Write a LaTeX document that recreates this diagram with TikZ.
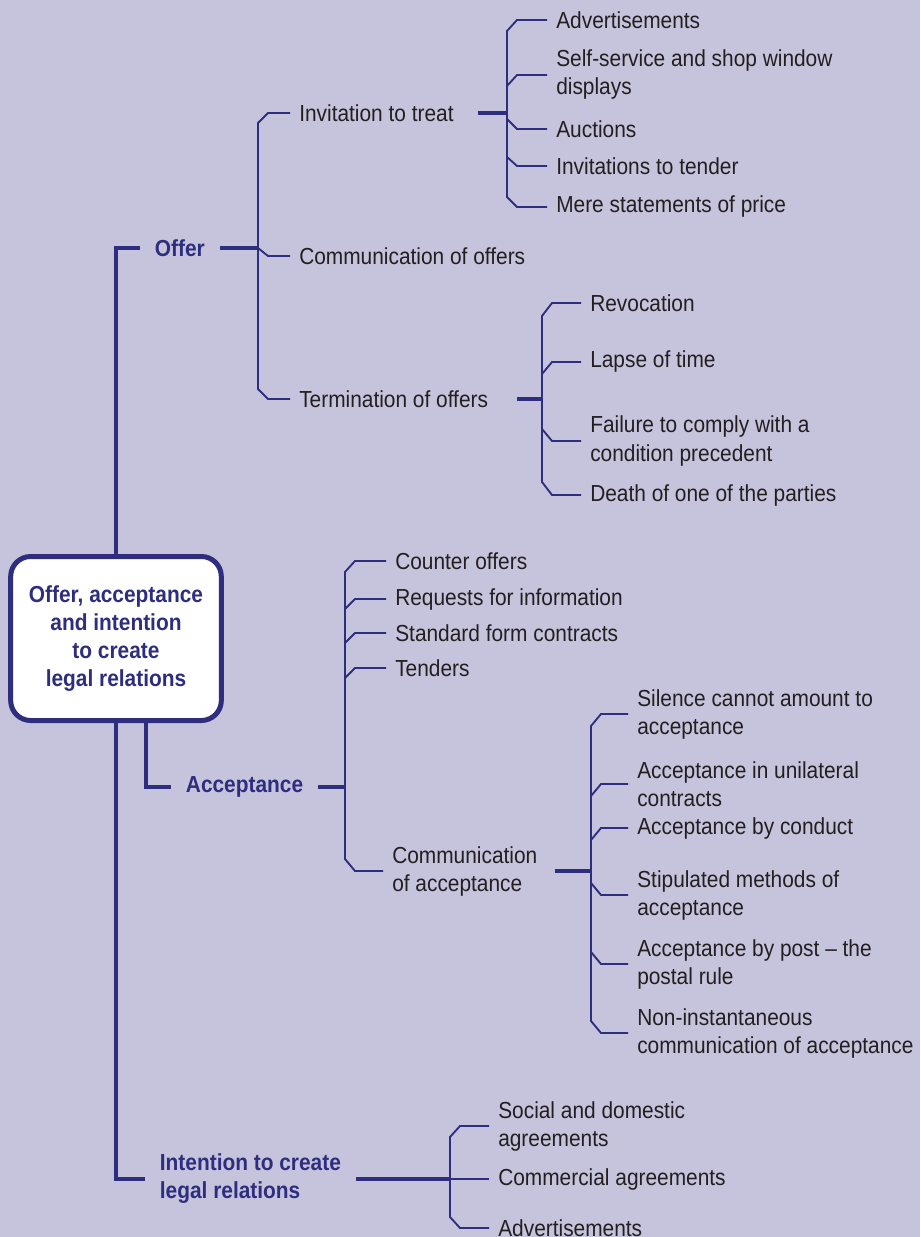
\documentclass[tikz,border=0pt]{standalone}
\usepackage{fontspec}
\setmainfont{Liberation Sans}[FakeStretch=0.9]
\usetikzlibrary{calc}
\definecolor{backdrop}{HTML}{C6C3DC}
\definecolor{treeblue}{HTML}{2E2D7E}
\definecolor{ink}{HTML}{231F20}
\newcommand{\diagfont}{\fontsize{17.4}{21}\selectfont}
\tikzstyle{hub} = [rectangle, rounded corners=15pt, draw=treeblue, line width=3.75pt, fill=white, minimum width=158pt, minimum height=123pt, align=center, text=treeblue, font=\diagfont\bfseries]
\tikzstyle{head} = [anchor=west, inner xsep=11pt, inner ysep=0pt, align=left, text=treeblue, font=\diagfont\bfseries]
\tikzstyle{item} = [anchor=west, inner xsep=6.75pt, inner ysep=0pt, align=left, text=ink, font=\diagfont]
\tikzstyle{stem} = [draw=treeblue, line width=3pt, line join=miter]
\tikzstyle{twig} = [draw=treeblue, line width=1.4pt, line join=miter]

\begin{document}
\begin{tikzpicture}[x=0.75pt, y=-0.75pt]
    % Background
    \fill[backdrop] (0,0) rectangle (920,1237);
    \useasboundingbox (0,0) rectangle (920,1237);

    % Central box
    \node (root) [hub] at (116,638.5) {Offer, acceptance\\and intention\\to create\\legal relations};

    % Main headings
    \node (offer) [head] at (140,248) {Offer};
    \node (accept) [head] at (171,787) {Acceptance};
    \node (intent) [head] at (145,1179) {Intention to create\\legal relations};

    % Offer
    \node (itt) [item] at (290,113) {Invitation to treat};
    \node (comoff) [item] at (290,256) {Communication of offers};
    \node (term) [item] at (290,399) {Termination of offers};

    \node (adv) [item] at (547,20) {Advertisements};
    \node (self) [item] at (547,75) {Self-service and shop window\\displays};
    \node (auction) [item] at (547,129) {Auctions};
    \node (tender) [item] at (547,166) {Invitations to tender};
    \node (mere) [item] at (547,207) {Mere statements of price};

    \node (revoc) [item] at (581,303) {Revocation};
    \node (lapse) [item] at (581,362) {Lapse of time};
    \node (failure) [item] at (581,441) {Failure to comply with a\\condition precedent};
    \node (death) [item] at (581,495) {Death of one of the parties};

    % Acceptance
    \node (counter) [item] at (386,561) {Counter offers};
    \node (request) [item] at (386,599) {Requests for information};
    \node (standard) [item] at (386,633) {Standard form contracts};
    \node (tenders) [item] at (386,668) {Tenders};
    \node (comacc) [item] at (383,871) {Communication\\of acceptance};

    \node (silence) [item] at (628,714) {Silence cannot amount to\\acceptance};
    \node (unilat) [item] at (628,784) {Acceptance in unilateral\\contracts};
    \node (conduct) [item] at (628,828) {Acceptance by conduct};
    \node (stipul) [item] at (628,895) {Stipulated methods of\\acceptance};
    \node (post) [item] at (628,964) {Acceptance by post -- the\\postal rule};
    \node (noninst) [item] at (628,1033) {Non-instantaneous\\communication of acceptance};

    % Intention to create legal relations
    \node (social) [item] at (489,1126) {Social and domestic\\agreements};
    \node (commercial) [item] at (489,1179) {Commercial agreements};
    \node (adv2) [item] at (489,1228) {Advertisements};

    % Bracket junctions
    \coordinate (offbar) at (258,248);
    \coordinate (ittbar) at (507,113);
    \coordinate (termbar) at (542,399);
    \coordinate (accbar) at (345,787);
    \coordinate (combar) at (591,871);
    \coordinate (intbar) at (450,1179);

    % Thick stems
    \draw[stem] (root.north) |- (offer.west);
    \draw[stem] ([xshift=22.5pt]root.south) |- (accept.west);
    \draw[stem] (root.south) |- (intent.west);
    \draw[stem] (offer.east) -- (offbar);
    \draw[stem] ([xshift=11pt]itt.east) -- (ittbar);
    \draw[stem] ([xshift=15pt]term.east) -- (termbar);
    \draw[stem] (accept.east) -- (accbar);
    \draw[stem] ([xshift=6pt]comacc.east) -- (combar);
    \draw[stem] (intent.east) -- (intbar);

    % Brackets with cut corners
    \foreach \n/\o in {itt/10, comoff/-8, term/-10}
        \draw[twig] (offbar) -- ($(offbar |- \n.west)+(0,\o)$) -- ($(offbar |- \n.west)+(10,0)$) -- (\n.west);
    \foreach \n/\o in {adv/11, self/11, auction/-10, tender/-9, mere/-10}
        \draw[twig] (ittbar) -- ($(ittbar |- \n.west)+(0,\o)$) -- ($(ittbar |- \n.west)+(10,0)$) -- (\n.west);
    \foreach \n/\o in {revoc/13, lapse/12, failure/-12, death/-13}
        \draw[twig] (termbar) -- ($(termbar |- \n.west)+(0,\o)$) -- ($(termbar |- \n.west)+(10,0)$) -- (\n.west);
    \foreach \n/\o in {counter/11, request/10, standard/10, tenders/10, comacc/-12}
        \draw[twig] (accbar) -- ($(accbar |- \n.west)+(0,\o)$) -- ($(accbar |- \n.west)+(10,0)$) -- (\n.west);
    \foreach \n/\o in {silence/12, unilat/12, conduct/12, stipul/-12, post/-12, noninst/-12}
        \draw[twig] (combar) -- ($(combar |- \n.west)+(0,\o)$) -- ($(combar |- \n.west)+(10,0)$) -- (\n.west);
    \foreach \n/\o in {social/11, commercial/0, adv2/-11}
        \draw[twig] (intbar) -- ($(intbar |- \n.west)+(0,\o)$) -- ($(intbar |- \n.west)+(10,0)$) -- (\n.west);
\end{tikzpicture}
\end{document}
